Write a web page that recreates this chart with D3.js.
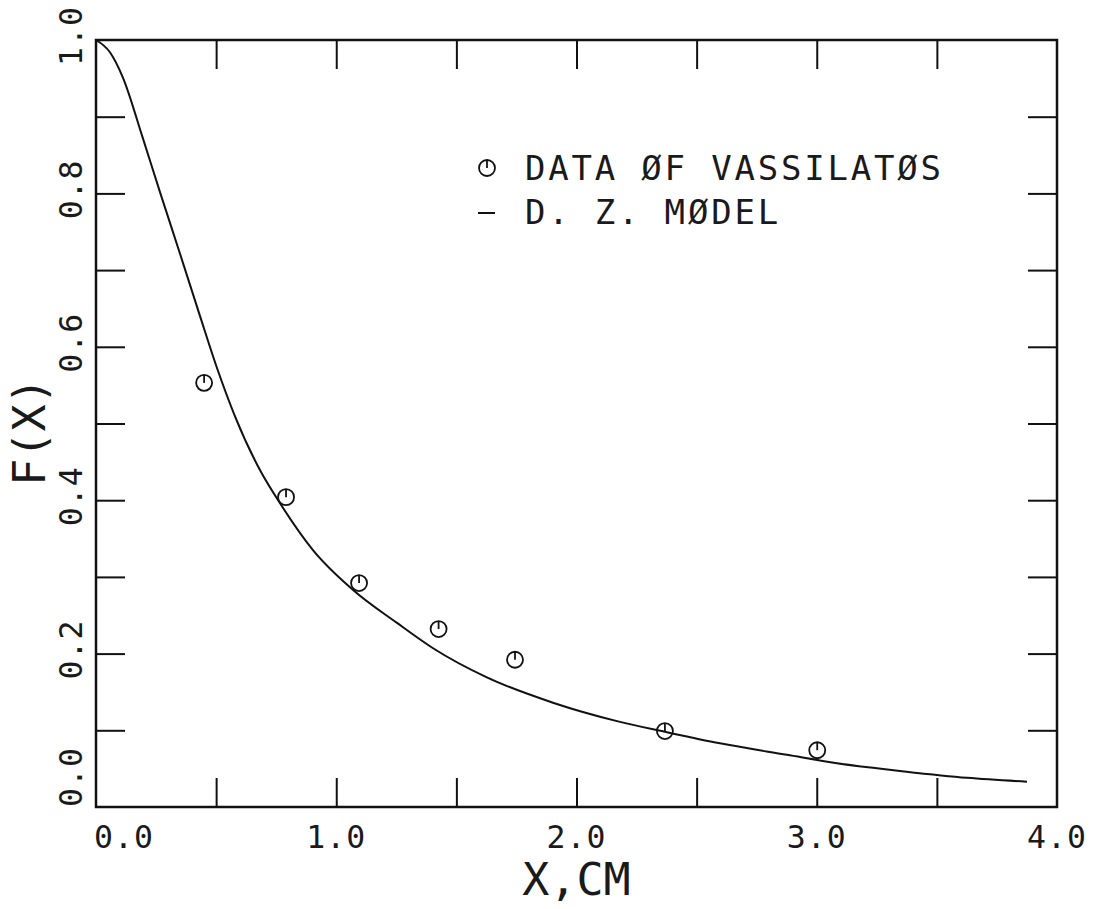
<!DOCTYPE html>
<html>
<head>
<meta charset="utf-8">
<script src="https://cdn.jsdelivr.net/npm/d3@7"></script>
<style>
body { margin: 0; background: #fff; }
text { font-family: "DejaVu Sans Mono", monospace; fill: #1a1a1a; }
</style>
</head>
<body>
<svg id="chart" width="1104" height="909"></svg>
<script>
// the data
const dataX = [0.450, 0.791, 1.095, 1.426, 1.744, 2.368, 3.002];
const dataY = [0.553, 0.404, 0.292, 0.232, 0.192, 0.099, 0.074];

const modelX = [0.0, 0.058, 0.112, 0.192, 0.266, 0.350, 0.433, 0.504, 0.579, 0.683, 0.766, 0.903,
                1.070, 1.253, 1.403, 1.627, 1.902, 2.181, 2.368, 2.597, 2.876, 3.084, 3.347, 3.625, 3.875];
const modelY = [1.0, 0.984, 0.951, 0.875, 0.802, 0.721, 0.640, 0.572, 0.509, 0.439, 0.396, 0.335,
                0.283, 0.240, 0.207, 0.169, 0.136, 0.111, 0.098, 0.083, 0.068, 0.057, 0.047, 0.038, 0.033];

// ticks and labels
const xMinor = [0.5, 1.0, 1.5, 2.0, 2.5, 3.0, 3.5];
const yMinor = [0.1, 0.2, 0.3, 0.4, 0.5, 0.6, 0.7, 0.8, 0.9];
const xTicks = [0, 1, 2, 3, 4];
const xLabels = ["0.0", "1.0", "2.0", "3.0", "4.0"];
const yTicks = [0, 0.2, 0.4, 0.6, 0.8, 1.0];
const yLabels = ["0.0", "0.2", "0.4", "0.6", "0.8", "1.0"];
const legendLabels = ["DATA ØF VASSILATØS", "D. Z. MØDEL"];
const xTitle = "X,CM";
const yTitle = "F(X)";

let svg = d3.select("#chart");

// frame of the plot
const pLeft = 96, pRight = 1057, pTop = 40, pBottom = 807;
const tick = 29;

let x = d3.scaleLinear().domain([0, 4]).range([pLeft, pRight]);
let y = d3.scaleLinear().domain([0, 1]).range([pBottom, pTop]);

// inward ticks on all four sides, no labels
function ticksOnly(axis) { return axis.tickFormat("").tickSizeOuter(0); }

svg.append("g").attr("transform", `translate(0,${pBottom})`)
    .call(ticksOnly(d3.axisTop(x).tickValues(xMinor).tickSizeInner(tick)));
svg.append("g").attr("transform", `translate(0,${pTop})`)
    .call(ticksOnly(d3.axisBottom(x).tickValues(xMinor).tickSizeInner(tick)));
svg.append("g").attr("transform", `translate(${pLeft},0)`)
    .call(ticksOnly(d3.axisRight(y).tickValues(yMinor).tickSizeInner(tick)));
svg.append("g").attr("transform", `translate(${pRight},0)`)
    .call(ticksOnly(d3.axisLeft(y).tickValues(yMinor).tickSizeInner(tick)));

svg.selectAll(".domain").remove();
svg.selectAll(".tick line").attr("stroke", "#111").attr("stroke-width", 2);

svg.append("rect")
    .attr("x", pLeft).attr("y", pTop)
    .attr("width", pRight - pLeft).attr("height", pBottom - pTop)
    .attr("fill", "none").attr("stroke", "#111").attr("stroke-width", 2.5);

// x tick labels
svg.append("g").selectAll("text")
    .data(xTicks)
    .enter().append("text")
    .attr("x", (d, i) => i === 0 ? pLeft - 2 : x(d))
    .attr("y", 848)
    .attr("text-anchor", (d, i) => i === 0 ? "start" : "middle")
    .style("font-size", "31.5px")
    .style("letter-spacing", "1px")
    .text((d, i) => xLabels[i]);

// y tick labels, rotated
svg.append("g").selectAll("text")
    .data(yTicks)
    .enter().append("text")
    .attr("transform", (d, i) => `translate(82,${i === 0 ? pBottom : y(d) - 4}) rotate(-90)`)
    .attr("text-anchor", (d, i) => i === 0 ? "start" : "middle")
    .style("font-size", "31.5px")
    .style("letter-spacing", "1px")
    .text((d, i) => yLabels[i]);

// axis titles
svg.append("text")
    .attr("x", (pLeft + pRight) / 2)
    .attr("y", 895)
    .attr("text-anchor", "middle")
    .style("font-size", "45px")
    .text(xTitle);

svg.append("text")
    .attr("transform", `translate(45,${(pTop + pBottom) / 2 + 8}) rotate(-90)`)
    .attr("text-anchor", "middle")
    .style("font-size", "45px")
    .text(yTitle);

// model curve
let model = modelX.map((v, i) => [v, modelY[i]]);
svg.append("path")
    .datum(model)
    .attr("fill", "none")
    .attr("stroke", "#111")
    .attr("stroke-width", 2)
    .attr("d", d3.line().x(d => x(d[0])).y(d => y(d[1])).curve(d3.curveMonotoneX));

// data markers: circle with a short tick from the top
const r = 8;
function marker(g) {
    g.append("circle").attr("r", r)
        .attr("fill", "none").attr("stroke", "#111").attr("stroke-width", 1.8);
    g.append("line").attr("x1", 0).attr("x2", 0).attr("y1", -r).attr("y2", 0)
        .attr("stroke", "#111").attr("stroke-width", 1.8);
}

svg.append("g").selectAll("g")
    .data(dataX.map((v, i) => [v, dataY[i]]))
    .enter().append("g")
    .attr("transform", d => `translate(${x(d[0])},${y(d[1])})`)
    .each(function () { marker(d3.select(this)); });

// legend
let leg = svg.append("g");
leg.append("g").attr("transform", "translate(487,168)").call(marker);
leg.append("line")
    .attr("x1", 478).attr("x2", 495).attr("y1", 213).attr("y2", 213)
    .attr("stroke", "#111").attr("stroke-width", 2);
leg.selectAll("text")
    .data(legendLabels)
    .enter().append("text")
    .attr("x", 525)
    .attr("y", (d, i) => 180 + i * 44)
    .style("font-size", "34px")
    .style("letter-spacing", "2.8px")
    .text(d => d);
</script>
</body>
</html>
